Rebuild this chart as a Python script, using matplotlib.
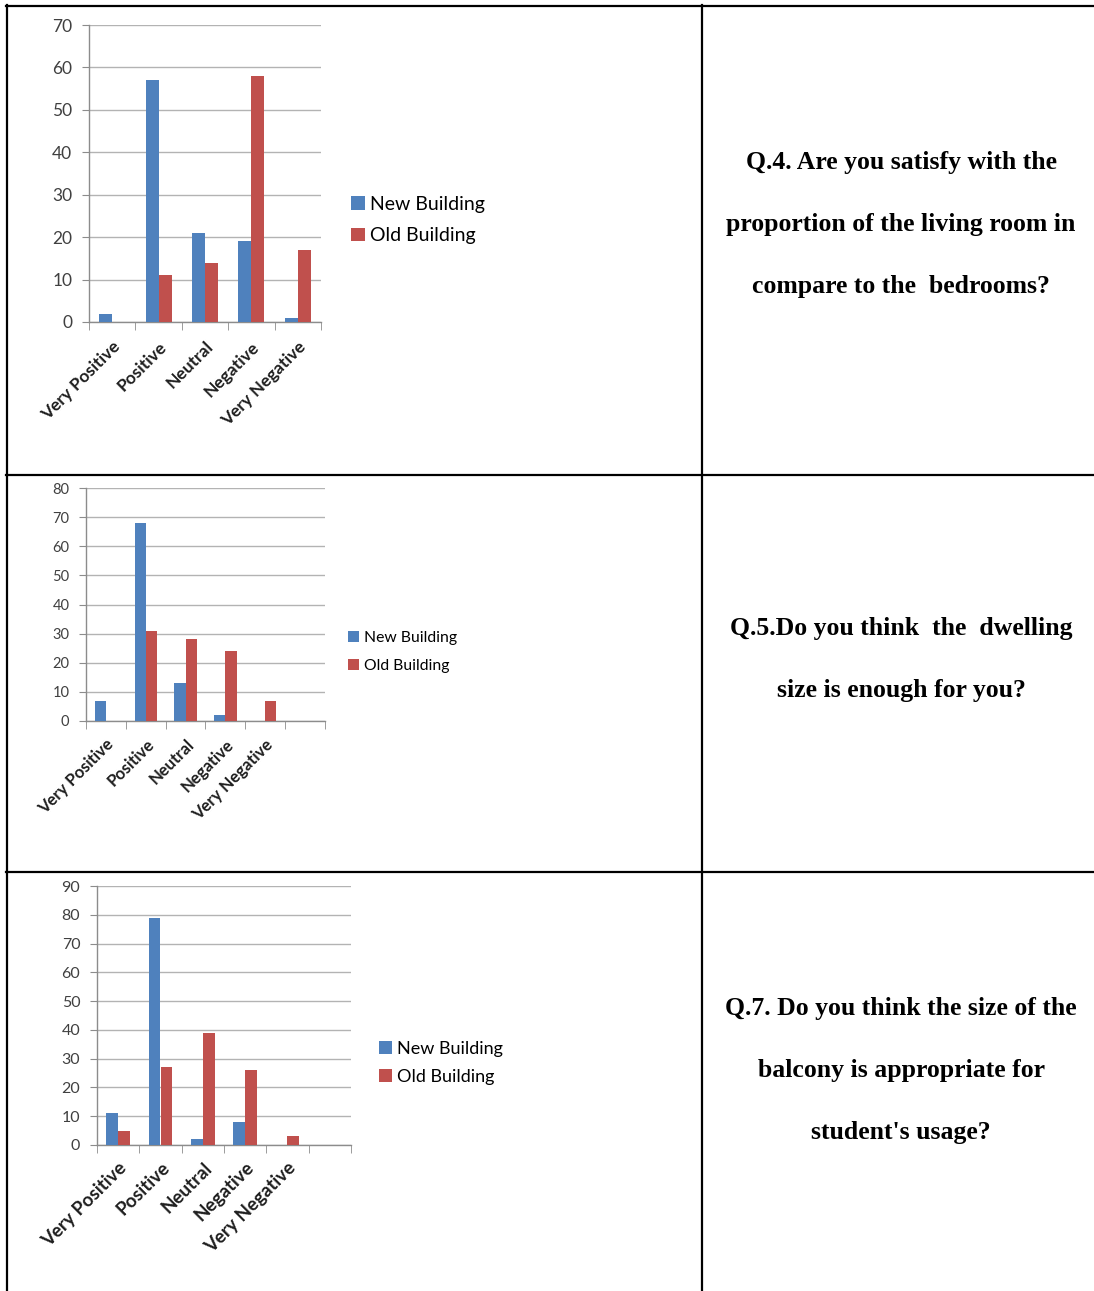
import matplotlib
matplotlib.use("Agg")
import matplotlib.pyplot as plt
import numpy as np
from matplotlib.lines import Line2D

# --- data ---
categories = ["Very Positive", "Positive", "Neutral", "Negative", "Very Negative"]
series_names = ["New Building", "Old Building"]

q4_new = [2, 57, 21, 19, 1]
q4_old = [0, 11, 14, 58, 17]
q5_new = [7, 68, 13, 2, 0]
q5_old = [0, 31, 28, 24, 7]
q7_new = [11, 79, 2, 8, 0]
q7_old = [5, 27, 39, 26, 3]

q4_text = ["Q.4. Are you satisfy with the",
           "proportion of the living room in",
           "compare to the  bedrooms?"]
q5_text = ["Q.5.Do you think  the  dwelling",
           "size is enough for you?"]
q7_text = ["Q.7. Do you think the size of the",
           "balcony is appropriate for",
           "student's usage?"]

BLUE = "#4F81BD"
RED = "#C0504D"
GRID = "#B3B3B3"
SPINE = "#8C8C8C"
W, H = 1094, 1291

plt.rcParams["font.family"] = ["Lato", "DejaVu Sans"]

fig = plt.figure(figsize=(W / 100, H / 100), dpi=100)


def px_axes(left, top, right, bottom):
    return fig.add_axes([left / W, 1 - bottom / H, (right - left) / W, (bottom - top) / H])


def bar_panel(box, new, old, ymax, nslots, tick_fs, xlab_fs, xpad, leg_fs, leg_xy, leg_gap):
    ax = px_axes(*box)
    x = np.arange(len(new))
    bw = 0.28
    ax.bar(x - bw / 2, new, bw, color=BLUE, label=series_names[0], zorder=3)
    ax.bar(x + bw / 2, old, bw, color=RED, label=series_names[1], zorder=3)
    ax.set_xlim(-0.5, nslots - 0.5)
    ax.set_ylim(0, ymax)
    ax.set_yticks(np.arange(0, ymax + 1, 10))
    ax.yaxis.grid(True, color=GRID, linewidth=1.0, zorder=0)
    ax.set_axisbelow(True)
    for s in ["top", "right"]:
        ax.spines[s].set_visible(False)
    for s in ["left", "bottom"]:
        ax.spines[s].set_color(SPINE)
        ax.spines[s].set_linewidth(1.0)
    ax.tick_params(axis="y", length=5, color=SPINE, labelsize=tick_fs, labelcolor="#404040", pad=7)
    labels = categories + [""] * (nslots - len(categories))
    ax.set_xticks(np.arange(nslots))
    ax.set_xticklabels(labels, rotation=45, ha="right", va="top", rotation_mode="anchor",
                       fontsize=xlab_fs, fontweight="bold", color="#1f1f1f")
    ax.tick_params(axis="x", length=0, pad=xpad)
    ax.set_xticks(np.arange(nslots + 1) - 0.5, minor=True)
    ax.tick_params(axis="x", which="minor", length=6, color=SPINE)
    fs_px = leg_fs / 0.72
    ax.legend(loc="center left", bbox_to_anchor=(leg_xy[0] / W, 1 - leg_xy[1] / H),
              bbox_transform=fig.transFigure, frameon=False, fontsize=leg_fs,
              handlelength=0.7, handleheight=0.7, handletextpad=0.3,
              labelspacing=(leg_gap - fs_px) / fs_px, borderpad=0, borderaxespad=0)
    return ax


bar_panel((89, 25, 321, 322), q4_new, q4_old, 70, 5, 12.5, 12.5, 12, 14, (351, 220), 34)
bar_panel((86, 488, 325, 721), q5_new, q5_old, 80, 6, 10.5, 12, 11, 11.3, (348, 652), 30)
bar_panel((97, 886, 351, 1145), q7_new, q7_old, 90, 6, 11.5, 13.5, 10, 13, (379, 1063), 30)

# question text in the right-hand column
cx = 901 / W
for lines, ys in [(q4_text, [163, 225, 287]), (q5_text, [628, 690]), (q7_text, [1008, 1070, 1132])]:
    for t, y in zip(lines, ys):
        fig.text(cx, 1 - y / H, t, ha="center", va="center", fontsize=18.5,
                 fontweight="bold", family=["Liberation Serif", "DejaVu Serif"], color="black")

# table borders
lw = 1.6
def hline(y, x0, x1):
    fig.add_artist(Line2D([x0 / W, x1 / W], [1 - y / H, 1 - y / H], color="black", lw=lw))
def vline(x, y0, y1):
    fig.add_artist(Line2D([x / W, x / W], [1 - y0 / H, 1 - y1 / H], color="black", lw=lw))

hline(6, 6, W)
hline(475, 6, W)
hline(872, 6, W)
vline(7, 5, H)
vline(702, 5, H)

fig.savefig("out.png", dpi=100)
